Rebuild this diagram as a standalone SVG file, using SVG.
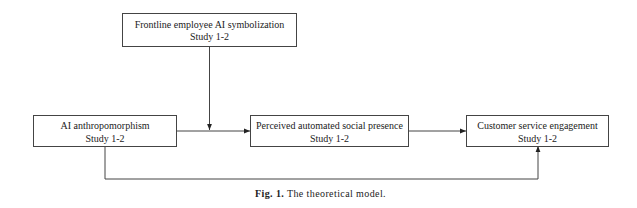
<svg xmlns="http://www.w3.org/2000/svg" width="637" height="208" viewBox="0 0 637 208">
<style>
.box{fill:#fff;stroke:#444;stroke-width:1}
.t{font-family:"Liberation Serif","Times New Roman",serif;font-size:10px;fill:#222;text-anchor:middle}
.c{fill:none;stroke:#444;stroke-width:1}
.cap{font-family:"Liberation Serif","Times New Roman",serif;font-size:10px;letter-spacing:0.4px;fill:#222;text-anchor:middle}
</style>
<defs>
<marker id="ah" viewBox="0 0 10 10" refX="10" refY="5" markerWidth="6" markerHeight="6" orient="auto" markerUnits="userSpaceOnUse">
<path d="M0,1 L10,5 L0,9 z" fill="#222"/>
</marker>
</defs>
<rect width="637" height="208" fill="#fff"/>
<g id="connectors">
<path class="c" d="M209.5,46 V130" marker-end="url(#ah)"/>
<path class="c" d="M176,131 H250" marker-end="url(#ah)"/>
<path class="c" d="M408,131 H466" marker-end="url(#ah)"/>
<path class="c" d="M105,146 V179 H538 V146" marker-end="url(#ah)"/>
</g>
<g id="symbolization">
<rect class="box" x="122.5" y="13.5" width="174" height="33"/>
<text class="t" x="209.5" y="27.5">Frontline employee AI symbolization</text>
<text class="t" x="209.5" y="39.5">Study 1-2</text>
</g>
<g id="anthropomorphism">
<rect class="box" x="33.5" y="115.5" width="143" height="31"/>
<text class="t" x="105" y="128.5">AI anthropomorphism</text>
<text class="t" x="105" y="141.5">Study 1-2</text>
</g>
<g id="presence">
<rect class="box" x="250.5" y="115.5" width="158" height="31"/>
<text class="t" x="329.5" y="128.5">Perceived automated social presence</text>
<text class="t" x="329.5" y="141.5">Study 1-2</text>
</g>
<g id="engagement">
<rect class="box" x="466.5" y="115.5" width="142" height="31"/>
<text class="t" x="537.5" y="128.5">Customer service engagement</text>
<text class="t" x="537.5" y="141.5">Study 1-2</text>
</g>
<text class="cap" x="320.5" y="197"><tspan font-weight="bold">Fig. 1.</tspan>  The theoretical model.</text>
</svg>
